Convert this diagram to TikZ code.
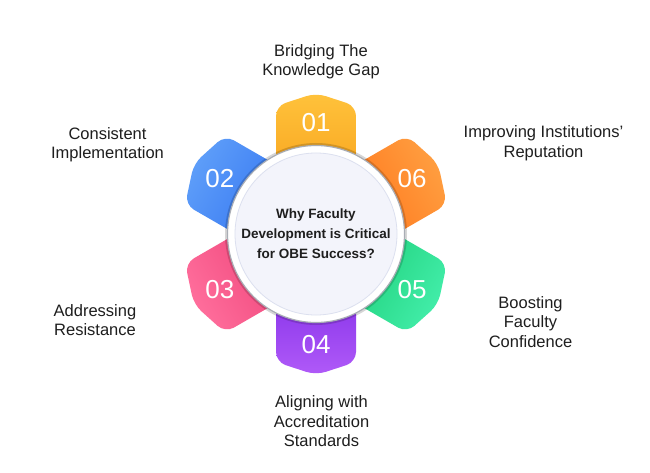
\documentclass[tikz,border=0pt]{standalone}
\usepackage{fontspec}
\setmainfont{Liberation Sans}
\definecolor{aO}{HTML}{FFC23B}\definecolor{aI}{HTML}{F7A01B}
\definecolor{bO}{HTML}{5E9EF9}\definecolor{bI}{HTML}{2F70F0}
\definecolor{cO}{HTML}{FF6E9C}\definecolor{cI}{HTML}{EC3E74}
\definecolor{dO}{HTML}{B05AF8}\definecolor{dI}{HTML}{7E2BE6}
\definecolor{eO}{HTML}{42EDA9}\definecolor{eI}{HTML}{18CB72}
\definecolor{fO}{HTML}{FF9E40}\definecolor{fI}{HTML}{FF7016}
\definecolor{ringline}{HTML}{A9ADB5}
\definecolor{discfill}{HTML}{F3F4FB}
\definecolor{discline}{HTML}{DCE0EF}
\definecolor{txt}{HTML}{1E1E1E}
\newcommand\mypetal[4]{% rotation, shading angle, outer colour, inner colour
  \begin{scope}[shift={(C)}, rotate=#1]
    \shade[top color=#3, bottom color=#4, shading angle=#2, rounded corners=10pt]
      (-40,40) -- (-40,128) -- (0,141) -- (40,128) -- (40,40) -- cycle;
  \end{scope}}
\begin{document}
\begin{tikzpicture}[x=1pt,y=1pt,
  lbl/.style={font=\fontsize{16.5}{19.5}\selectfont, align=center, inner sep=0pt, text=txt},
  num/.style={font=\fontsize{26}{30}\selectfont, text=white, inner sep=0pt},
  ctr/.style={font=\bfseries\fontsize{13.5}{20}\selectfont, align=center, inner sep=0pt, text=txt}]
\fill[white] (0,0) rectangle (650,472);
\useasboundingbox (0,0) rectangle (650,472);
\coordinate (C) at (316,238);
% petals
\mypetal{0}{0}{aO}{aI}
\mypetal{60}{60}{bO}{bI}
\mypetal{120}{120}{cO}{cI}
\mypetal{180}{180}{dO}{dI}
\mypetal{240}{240}{eO}{eI}
\mypetal{300}{300}{fO}{fI}
% centre disc
\fill[black, opacity=0.16] (C) circle (91);
\fill[white] (C) circle (88.5);
\draw[ringline, line width=1.2pt] (C) circle (88.5);
\filldraw[fill=discfill, draw=discline, line width=0.8pt] (C) circle (81);
\node[ctr] (title) at (316,238.5) {Why Faculty\\Development is Critical\\for OBE Success?};
% numbers
\node[num] (n1) at ([shift={(90:111)}]C) {01};
\node[num] (n2) at ([shift={(150:111)}]C) {02};
\node[num] (n3) at ([shift={(210:111)}]C) {03};
\node[num] (n4) at ([shift={(270:111)}]C) {04};
\node[num] (n5) at ([shift={(330:111)}]C) {05};
\node[num] (n6) at ([shift={(30:111)}]C) {06};
% labels
\node[lbl] (l1) at (321,410.2) {Bridging The\\Knowledge Gap};
\node[lbl] (l2) at (107.5,327.5) {Consistent\\Implementation};
\node[lbl] (l3) at (95,152) {Addressing\\Resistance};
\node[lbl] (l4) at (321.5,50.5) {Aligning with\\Accreditation\\Standards};
\node[lbl] (l5) at (530.5,150.2) {Boosting\\Faculty\\Confidence};
\node[lbl] (l6) at (543.5,329) {Improving Institutions’\\Reputation};
\end{tikzpicture}
\end{document}
